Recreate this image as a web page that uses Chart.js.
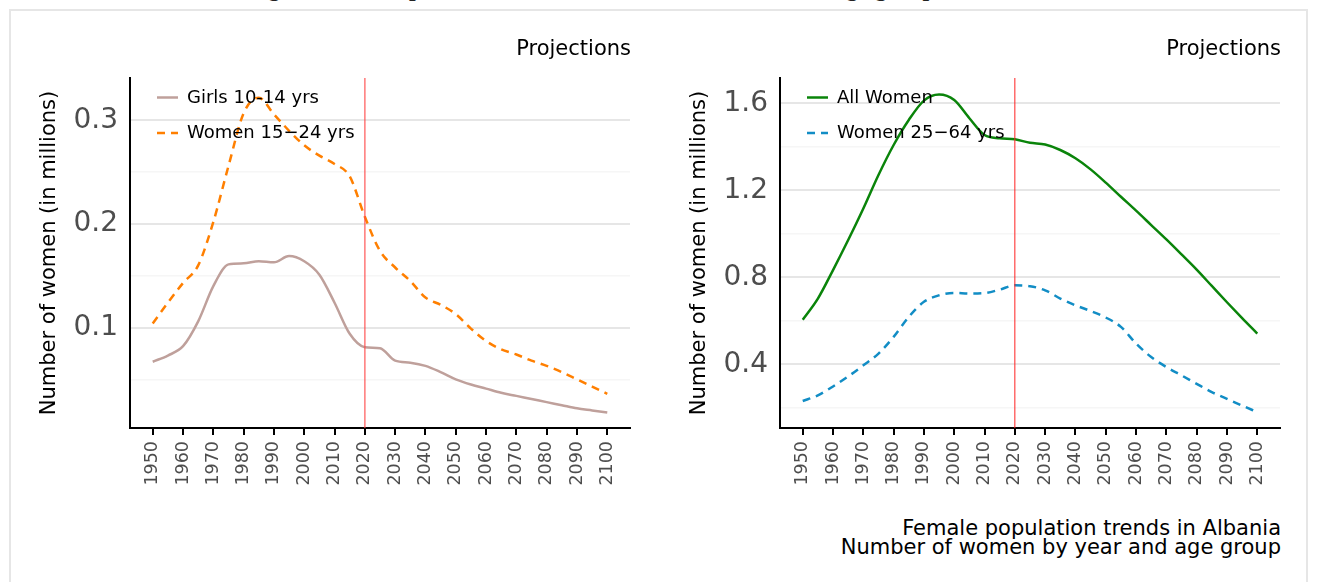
<!DOCTYPE html>
<html><head><meta charset="utf-8">
<script src="https://cdn.jsdelivr.net/npm/chart.js@4"></script>
<style>
html,body{margin:0;padding:0;background:#fff;width:1320px;height:582px;overflow:hidden;font-family:"DejaVu Sans",sans-serif;}
#frame{position:absolute;left:9px;top:9px;width:1299px;height:640px;border:2px solid #e6e6e6;box-sizing:border-box;}
#toptitle{position:absolute;left:227px;top:-24px;font:bold 24px/24px "Liberation Serif",serif;white-space:nowrap;color:#222;}
#toptitle span{letter-spacing:-0.7px;}
.proj{position:absolute;top:36px;font-size:21px;line-height:24px;color:#000;white-space:nowrap;}
#cap{position:absolute;right:39px;top:519px;text-align:right;font-size:21px;line-height:19px;color:#000;white-space:nowrap;}
canvas{position:absolute;top:0;}
</style></head>
<body>
<div id="toptitle">Long-term develo<span>pment of Albanian women, 1950–2100, each a</span>ge group</div>
<div id="frame"></div>
<canvas id="c1" width="660" height="500" style="left:0px"></canvas>
<canvas id="c2" width="660" height="500" style="left:650px"></canvas>
<div class="proj" style="right:689px">Projections</div>
<div class="proj" style="right:39px">Projections</div>
<div id="cap">Female population trends in Albania<br>Number of women by year and age group</div>
<script>
// ---- data (millions) ----
const years = [1950,1955,1960,1965,1970,1975,1980,1985,1990,1995,2000,2005,2010,2015,2020,2025,2030,2035,2040,2045,2050,2055,2060,2065,2070,2075,2080,2085,2090,2095,2100];
const girls1014 = [0.067,0.073,0.082,0.106,0.140,0.161,0.162,0.164,0.163,0.169,0.164,0.151,0.124,0.094,0.081,0.080,0.068,0.066,0.063,0.057,0.050,0.045,0.041,0.037,0.034,0.031,0.028,0.025,0.022,0.020,0.018];
const women1524 = [0.104,0.124,0.143,0.160,0.202,0.256,0.307,0.322,0.306,0.290,0.276,0.266,0.258,0.246,0.207,0.174,0.158,0.145,0.129,0.122,0.113,0.099,0.087,0.079,0.074,0.068,0.063,0.057,0.050,0.043,0.036];
const allWomen = [0.605,0.702,0.833,0.971,1.116,1.270,1.408,1.523,1.612,1.640,1.615,1.531,1.454,1.439,1.434,1.418,1.410,1.385,1.347,1.296,1.235,1.170,1.106,1.040,0.974,0.905,0.835,0.760,0.685,0.612,0.541];
const women2564 = [0.231,0.257,0.298,0.344,0.395,0.449,0.526,0.618,0.687,0.717,0.728,0.725,0.727,0.743,0.763,0.759,0.740,0.702,0.671,0.645,0.615,0.572,0.495,0.433,0.387,0.349,0.310,0.272,0.241,0.210,0.180];
const xTickYears = [1950,1960,1970,1980,1990,2000,2010,2020,2030,2040,2050,2060,2070,2080,2090,2100];
const leftYTicks = [0.05,0.1,0.15,0.2,0.25,0.3];
const leftYLabels = ['','0.1','','0.2','','0.3'];
const rightYTicks = [0.2,0.4,0.6,0.8,1.0,1.2,1.4,1.6];
const rightYLabels = ['','0.4','','0.8','','1.2','','1.6'];
const projectionStart = 2020;

function pts(vals){ return years.map((y,i)=>({x:y,y:vals[i]})); }

const legendPlugin = {
  id:'insideLegend',
  afterDraw(chart){
    const ctx=chart.ctx, ca=chart.chartArea;
    ctx.save();
    chart.data.datasets.forEach((ds,i)=>{
      const y = ca.top + 19.5 + i*35.5;
      ctx.strokeStyle=ds.borderColor; ctx.lineWidth=ds.borderWidth;
      ctx.setLineDash(ds.borderDash||[]);
      ctx.beginPath(); ctx.moveTo(ca.left+27,y); ctx.lineTo(ca.left+48,y); ctx.stroke();
      ctx.setLineDash([]);
      ctx.fillStyle='#000'; ctx.font='18px "DejaVu Sans"'; ctx.textBaseline='middle'; ctx.textAlign='left';
      ctx.fillText(ds.label, ca.left+57, y+0.5);
    });
    ctx.restore();
  }
};
function vlinePlugin(color,width){
  return {
    id:'vline',
    afterDatasetsDraw(chart){
      const ctx=chart.ctx, ca=chart.chartArea, xs=chart.scales.x;
      const px=xs.getPixelForValue(projectionStart);
      ctx.save(); ctx.strokeStyle=color; ctx.lineWidth=width;
      ctx.beginPath(); ctx.moveTo(px,ca.top); ctx.lineTo(px,ca.bottom); ctx.stroke(); ctx.restore();
    }
  };
}

function makeChart(id, datasets, yMin, yMax, yTicks, yLabels, vcolor, vwidth){
  return new Chart(document.getElementById(id), {
    type:'line',
    data:{datasets},
    options:{
      responsive:false, animation:false, devicePixelRatio:1,
      layout:{padding:{left:0,right:30,top:78,bottom:0}},
      plugins:{legend:{display:false},tooltip:{enabled:false}},
      elements:{point:{radius:0},line:{cubicInterpolationMode:'monotone',borderCapStyle:'butt'}},
      scales:{
        x:{type:'linear',min:1942.5,max:2107.5,
          afterBuildTicks(s){ s.ticks = xTickYears.map(v=>({value:v})); },
          afterFit(s){ s.height = 72; },
          ticks:{autoSkip:false,minRotation:90,maxRotation:90,padding:6,color:'#4d4d4d',
            font:{family:'DejaVu Sans',size:17.5},callback:(v)=>String(v)},
          grid:{display:true,drawOnChartArea:false,drawTicks:true,tickLength:7,color:'#000',lineWidth:2},
          border:{display:true,color:'#000',width:2}
        },
        y:{type:'linear',min:yMin,max:yMax,
          afterBuildTicks(s){ s.ticks = yTicks.map(v=>({value:v})); },
          afterFit(s){ s.width = 130; },
          ticks:{padding:12,color:'#4d4d4d',font:{family:'DejaVu Sans',size:28},
            callback:(v,i)=>yLabels[i]},
          grid:{drawTicks:false,color:(c)=> yLabels[c.index] ? '#e6e6e6' : '#f6f6f6',lineWidth:(c)=> yLabels[c.index] ? 2 : 1.5},
          border:{display:true,color:'#000',width:2},
          title:{display:true,text:'Number of women (in millions)',color:'#000',
            font:{family:'DejaVu Sans',size:21},padding:{top:37,bottom:0}}
        }
      }
    },
    plugins:[vlinePlugin(vcolor,vwidth),legendPlugin]
  });
}

makeChart('c1',[
  {label:'Girls 10-14 yrs',data:pts(girls1014),borderColor:'#bfa09b',borderWidth:2.5,fill:false},
  {label:'Women 15\u221224 yrs',data:pts(women1524),borderColor:'#ff7f00',borderWidth:2.5,borderDash:[8,6],fill:false}
],0.003,0.341,leftYTicks,leftYLabels,'rgba(255,70,70,0.65)',1.7);

makeChart('c2',[
  {label:'All Women',data:pts(allWomen),borderColor:'#0a840a',borderWidth:2.5,fill:false},
  {label:'Women 25\u221264 yrs',data:pts(women2564),borderColor:'#128dc5',borderWidth:2.5,borderDash:[8,6],fill:false}
],0.107,1.716,rightYTicks,rightYLabels,'#ff2020',1);
</script>
</body></html>
